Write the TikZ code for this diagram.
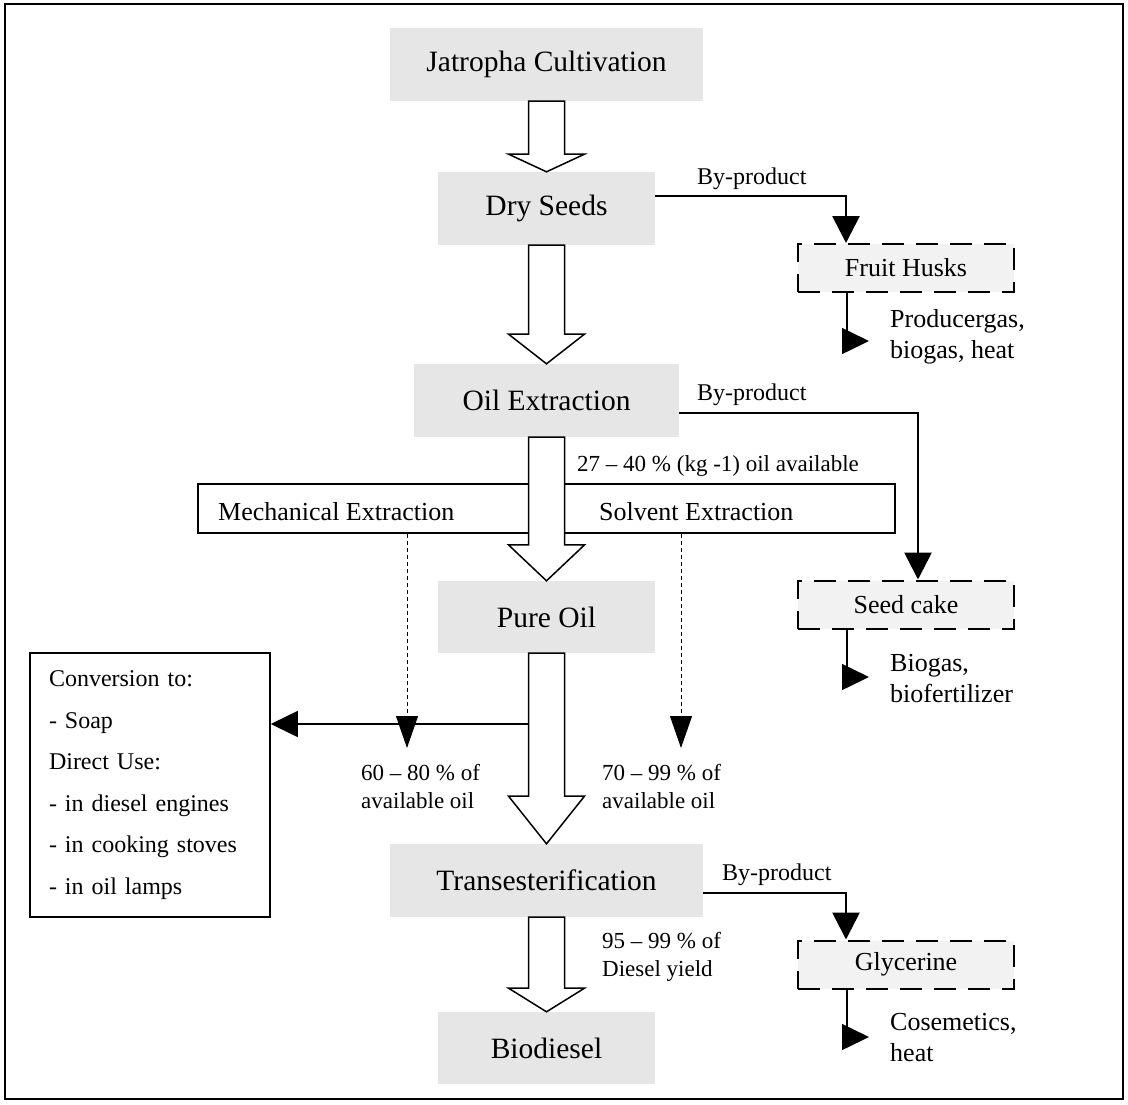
\documentclass[tikz,border=0pt]{standalone}
\usepackage{fontspec}
\setmainfont{Liberation Serif}
\usetikzlibrary{arrows.meta,calc}
\definecolor{stagegray}{RGB}{230,230,230}
\definecolor{huskgray}{RGB}{242,242,242}
\newcommand{\bigtxt}{\fontsize{29.5}{34}\selectfont}
\newcommand{\midtxt}{\fontsize{26}{31.5}\selectfont}
\newcommand{\smalltxt}{\fontsize{24}{30}\selectfont}
\newcommand{\pcttxt}{\fontsize{23}{28}\selectfont}
% hollow block arrow between two stacked stages, head = last quarter
\newcommand{\blockarrow}[2]{%
  \draw[blockline] let \p1=(#1), \p2=(#2), \n1={0.75*\y2+0.25*\y1} in
    ({\x1-18pt},\y1) -- ({\x1-18pt},{\n1*1pt}) -- ({\x1-38pt},{\n1*1pt}) -- (\x1,\y2)
    -- ({\x1+38pt},{\n1*1pt}) -- ({\x1+18pt},{\n1*1pt}) -- ({\x1+18pt},\y1) -- cycle;}
\tikzset{
  stage/.style={fill=stagegray,minimum height=73pt,inner sep=0pt,font=\bigtxt},
  byprod/.style={draw,dash pattern=on 22pt off 12pt,line width=2pt,fill=huskgray,minimum width=216pt,minimum height=48pt,inner sep=0pt,font=\midtxt},
  plainbox/.style={draw,line width=1.5pt},
  blockline/.style={draw,fill=white,line width=1.5pt},
  byline/.style={line width=1.5pt},
  bydrop/.style={line width=2.8pt,line cap=rect,-{Triangle[length=27pt,width=27pt]}},
  useline/.style={line width=1.5pt,-{Triangle[length=27pt,width=26pt]}},
  share/.style={dash pattern=on 4pt off 3pt,line width=1pt,-{Triangle[length=32pt,width=22pt]}},
  note/.style={inner sep=0pt,anchor=base west,align=left},
}
\begin{document}
\begin{tikzpicture}[x=1pt,y=-1pt]
\useasboundingbox (0,0) rectangle (1128,1104);
\draw[line width=2pt] (5,4) rectangle (1123,1099);
% main chain
\node[stage,minimum width=313pt] (jc) at (546.5,64.5) {Jatropha Cultivation};
\node[stage,minimum width=217pt] (ds) at (546.5,208.5) {Dry Seeds};
\node[stage,minimum width=265pt] (oe) at (546.5,400.5) {Oil Extraction};
\node[stage,minimum width=217pt,minimum height=72pt] (po) at (546.5,617) {Pure Oil};
\node[stage,minimum width=313pt] (tr) at (546.5,880.5) {Transesterification};
\node[stage,minimum width=217pt,minimum height=72pt] (bd) at (546.5,1048) {Biodiesel};
% extraction methods
\node[plainbox,minimum width=697pt,minimum height=49pt,inner sep=0pt] (bar) at (546.5,508.5) {};
\node[note,font=\midtxt] (mech) at (218,520) {Mechanical Extraction};
\node[note,font=\midtxt] (solv) at (599,520) {Solvent Extraction};
\node[note,font=\pcttxt] (avail) at (577,471) {27 – 40 \% (kg -1) oil available};
\blockarrow{jc.south}{ds.north}
\blockarrow{ds.south}{oe.north}
\blockarrow{oe.south}{po.north}
\blockarrow{po.south}{tr.north}
\blockarrow{tr.south}{bd.north}
% direct use of pure oil
\node[plainbox,text width=202pt,inner xsep=19pt,inner ysep=0pt,minimum height=264pt,align=left,font=\fontsize{24}{41.6}\selectfont] (uses) at (150,785) {Conversion to:\\- Soap\\Direct Use:\\- in diesel engines\\- in cooking stoves\\- in oil lamps};
\coordinate (split) at (528,724);
\draw[useline] (split) -- (split -| uses.east);
\coordinate (mechend) at (407,748);
\draw[share] (bar.south -| mechend) -- (mechend);
\coordinate (solvend) at (681,748);
\draw[share] (bar.south -| solvend) -- (solvend);
% (base of a two-line note = its last line)
\node[note,font=\pcttxt] (mechpct) at (361,808) {60 – 80 \% of\\available oil};
\node[note,font=\pcttxt] (solvpct) at (602,808) {70 – 99 \% of\\available oil};
\node[note,font=\pcttxt] (diespct) at (602,976) {95 – 99 \% of\\Diesel yield};
% by-products
\node[byprod] (fh) at (906,268) {Fruit Husks};
\node[byprod] (sc) at (906,604.5) {Seed cake};
\node[byprod] (gl) at (906,964.5) {Glycerine};
\coordinate (bp1) at (846,196);
\draw[byline] (ds.east |- bp1) -- (bp1);
\draw[bydrop] (bp1) -- (fh.north -| bp1);
\node[note,font=\smalltxt] (bplab1) at (697,184) {By-product};
\coordinate (bp2) at (918,413);
\draw[byline] (oe.east |- bp2) -- (bp2);
\draw[bydrop] (bp2) -- (sc.north -| bp2);
\node[note,font=\smalltxt] (bplab2) at (697,400) {By-product};
\coordinate (bp3) at (846,893);
\draw[byline] (tr.east |- bp3) -- (bp3);
\draw[bydrop] (bp3) -- (gl.north -| bp3);
\node[note,font=\smalltxt] (bplab3) at (722,880) {By-product};
% uses of by-products
\coordinate (fhout) at (847,341);
\draw[useline] (fh.south -| fhout) |- ([xshift=22pt]fhout);
\node[note,font=\midtxt] (fhuse) at (890,358.5) {Producergas,\\biogas, heat};
\coordinate (scout) at (847,677);
\draw[useline] (sc.south -| scout) |- ([xshift=22pt]scout);
\node[note,font=\midtxt] (scuse) at (890,702.5) {Biogas,\\biofertilizer};
\coordinate (glout) at (847,1037);
\draw[useline] (gl.south -| glout) |- ([xshift=22pt]glout);
\node[note,font=\midtxt] (gluse) at (890,1061.5) {Cosemetics,\\heat};
\end{tikzpicture}
\end{document}
